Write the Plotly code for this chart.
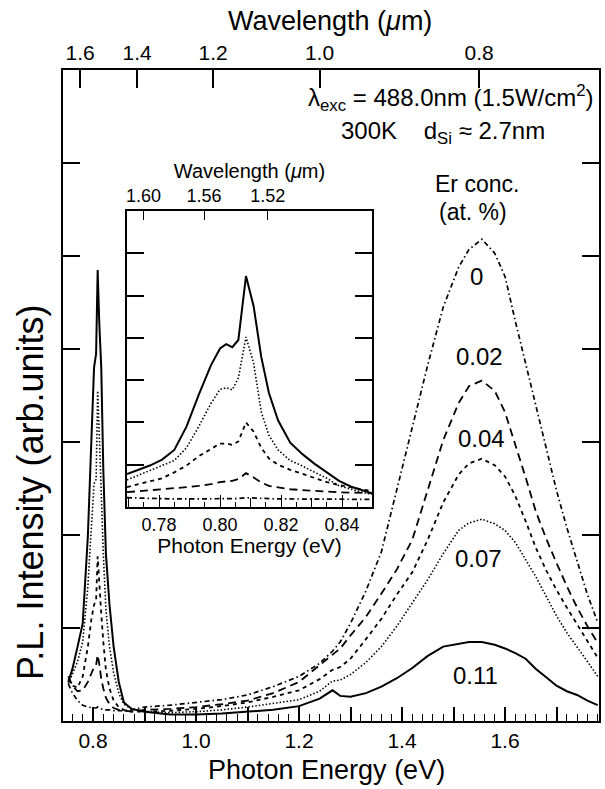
import plotly.graph_objects as go

# ---------------- data ----------------
HC = 1.2398  # eV * um, photon energy <-> wavelength

# main panel: photon energy (eV) and PL intensity (arb. units, 1 unit = 1 y tick)
E_MAIN = [0.752, 0.760, 0.770, 0.780, 0.790, 0.797, 0.802, 0.806, 0.809, 0.812,
          0.816, 0.820, 0.825, 0.832, 0.840, 0.850, 0.860, 0.875, 0.900, 0.950,
          1.000, 1.050, 1.100, 1.150, 1.200, 1.240, 1.265, 1.280, 1.300, 1.330,
          1.360, 1.390, 1.420, 1.450, 1.480, 1.510, 1.530, 1.555, 1.580, 1.600,
          1.620, 1.640, 1.660, 1.680, 1.700, 1.720, 1.740, 1.760, 1.780]
PL_0 = [0.40, 0.30, 0.22, 0.17, 0.15, 0.14, 0.14, 0.14, 0.15, 0.14,
        0.13, 0.12, 0.12, 0.12, 0.11, 0.11, 0.11, 0.12, 0.15, 0.17,
        0.20, 0.23, 0.28, 0.37, 0.48, 0.62, 0.75, 0.85, 1.05, 1.40,
        1.82, 2.48, 3.15, 3.83, 4.45, 4.88, 5.07, 5.18, 5.03, 4.78,
        4.30, 3.85, 3.38, 2.93, 2.48, 2.08, 1.72, 1.36, 1.06]
PL_002 = [0.48, 0.38, 0.32, 0.33, 0.42, 0.52, 0.58, 0.60, 0.71, 0.62,
          0.45, 0.35, 0.25, 0.18, 0.14, 0.12, 0.11, 0.10, 0.12, 0.13,
          0.15, 0.18, 0.22, 0.30, 0.42, 0.60, 0.72, 0.78, 0.92, 1.12,
          1.37, 1.63, 1.95, 2.48, 3.02, 3.42, 3.60, 3.66, 3.55, 3.32,
          2.98, 2.62, 2.25, 1.96, 1.70, 1.45, 1.22, 1.02, 0.84]
PL_004 = [0.45, 0.38, 0.36, 0.48, 0.80, 1.10, 1.25, 1.30, 1.77, 1.55,
          1.15, 0.85, 0.55, 0.35, 0.22, 0.15, 0.12, 0.10, 0.10, 0.11,
          0.13, 0.16, 0.20, 0.26, 0.33, 0.45, 0.55, 0.58, 0.67, 0.88,
          1.10, 1.36, 1.60, 1.95, 2.35, 2.65, 2.77, 2.82, 2.75, 2.63,
          2.42, 2.15, 1.86, 1.62, 1.41, 1.22, 1.04, 0.86, 0.68]
PL_007 = [0.40, 0.50, 0.64, 0.85, 1.45, 2.10, 2.55, 2.60, 3.55, 3.10,
          2.40, 1.80, 1.20, 0.80, 0.52, 0.30, 0.18, 0.13, 0.10, 0.09,
          0.10, 0.12, 0.15, 0.19, 0.23, 0.32, 0.43, 0.44, 0.50, 0.63,
          0.80, 1.02, 1.27, 1.52, 1.80, 2.05, 2.13, 2.17, 2.12, 2.05,
          1.92, 1.74, 1.55, 1.34, 1.13, 0.95, 0.80, 0.64, 0.48]
PL_011 = [0.42, 0.56, 0.80, 1.05, 1.99, 2.95, 3.80, 3.95, 4.85, 4.30,
          3.80, 2.70, 1.80, 1.25, 0.80, 0.42, 0.20, 0.13, 0.10, 0.07,
          0.07, 0.08, 0.10, 0.12, 0.16, 0.24, 0.33, 0.27, 0.26, 0.30,
          0.37, 0.46, 0.57, 0.70, 0.80, 0.83, 0.85, 0.85, 0.82, 0.78,
          0.73, 0.67, 0.56, 0.47, 0.38, 0.32, 0.28, 0.22, 0.17]

# inset: Er3+ 1.54 um band
E_INSET = [0.7695, 0.773, 0.777, 0.781, 0.785, 0.789, 0.793, 0.797, 0.800, 0.802,
           0.804, 0.806, 0.8085, 0.811, 0.8135, 0.816, 0.819, 0.823, 0.827, 0.831,
           0.835, 0.839, 0.843, 0.847, 0.850]
IN_0 = [0.22, 0.21, 0.20, 0.20, 0.19, 0.19, 0.19, 0.19, 0.20, 0.20,
        0.20, 0.20, 0.22, 0.21, 0.20, 0.20, 0.19, 0.19, 0.19, 0.19,
        0.18, 0.18, 0.18, 0.18, 0.18]
IN_002 = [0.35, 0.37, 0.39, 0.42, 0.44, 0.47, 0.50, 0.54, 0.59, 0.61,
          0.62, 0.66, 0.80, 0.70, 0.58, 0.50, 0.46, 0.42, 0.40, 0.38,
          0.36, 0.35, 0.34, 0.33, 0.33]
IN_004 = [0.47, 0.53, 0.60, 0.68, 0.82, 0.98, 1.20, 1.38, 1.50, 1.50,
          1.47, 1.55, 2.00, 1.78, 1.40, 1.15, 1.00, 0.88, 0.78, 0.68,
          0.59, 0.52, 0.46, 0.41, 0.38]
IN_007 = [0.64, 0.74, 0.87, 0.98, 1.10, 1.40, 1.90, 2.45, 2.78, 2.82,
          2.77, 3.05, 4.02, 3.40, 2.25, 1.70, 1.35, 1.10, 0.97, 0.82,
          0.68, 0.50, 0.42, 0.34, 0.30]
IN_011 = [0.78, 0.88, 0.98, 1.12, 1.35, 1.90, 2.65, 3.35, 3.75, 3.85,
          3.78, 3.95, 5.46, 4.75, 3.55, 2.70, 2.05, 1.52, 1.25, 1.02,
          0.82, 0.62, 0.48, 0.38, 0.32]

CONC_LABELS = ["0", "0.02", "0.04", "0.07", "0.11"]
MAIN_XLABELS = [0.8, 1.0, 1.2, 1.4, 1.6]
WL_TICKS_MAIN = [1.6, 1.4, 1.2, 1.0, 0.8]
INSET_XLABELS = [0.78, 0.80, 0.82, 0.84]
WL_TICKS_INSET = [1.60, 1.56, 1.52]

# ---------------- styling ----------------
FONT = "Liberation Sans, Arial, Helvetica, sans-serif"
STYLES = {
    "0": dict(dash="5px,3px,1.5px,3px", width=1.7),
    "0.02": dict(dash="8px,5px", width=1.8),
    "0.04": dict(dash="4px,4px", width=1.8),
    "0.07": dict(dash="1.5px,2px", width=1.6),
    "0.11": dict(dash="solid", width=2.0),
}
main_series = dict(zip(CONC_LABELS, [PL_0, PL_002, PL_004, PL_007, PL_011]))
inset_series = dict(zip(CONC_LABELS, [IN_0, IN_002, IN_004, IN_007, IN_011]))

fig = go.Figure()
for lab in CONC_LABELS:
    st = STYLES[lab]
    fig.add_trace(go.Scatter(x=E_MAIN, y=main_series[lab], mode="lines",
                             line=dict(color="black", width=st["width"], dash=st["dash"]),
                             xaxis="x", yaxis="y", showlegend=False, hoverinfo="skip"))
for lab in CONC_LABELS:
    st = STYLES[lab]
    fig.add_trace(go.Scatter(x=E_INSET, y=inset_series[lab], mode="lines",
                             line=dict(color="black", width=st["width"], dash=st["dash"]),
                             xaxis="x3", yaxis="y3", showlegend=False, hoverinfo="skip"))
# invisible traces so the extra (wavelength / tick-only) axes are drawn
for xa, ya, xs, ys in [("x2", "y", E_MAIN, PL_0), ("x5", "y", E_MAIN, PL_0),
                       ("x4", "y3", E_INSET, IN_0), ("x6", "y3", E_INSET, IN_0)]:
    fig.add_trace(go.Scatter(x=xs, y=ys, xaxis=xa, yaxis=ya, mode="lines",
                             opacity=0, showlegend=False, hoverinfo="skip"))

# geometry (pixels in the 605x789 canvas)
W, H = 605, 789
L, R, T, B = 63, 599, 70, 721
def px(x):
    return (x - L) / (R - L)
def py(y):
    return (B - y) / (B - T)

XR_MAIN = [0.7417, 1.7825]
XR_INSET = [0.7695, 0.8498]

main_odd = [round(0.9 + 0.2 * i, 1) for i in range(5)]
main_minor = [round(0.74 + 0.02 * i, 2) for i in range(53)]
inset_odd = [round(0.77 + 0.02 * i, 2) for i in range(5)]
inset_minor = [round(0.770 + 0.005 * i, 3) for i in range(17)]

tickfont = dict(family=FONT, size=21, color="black")
inset_tickfont = dict(family=FONT, size=18, color="black")
axis_common = dict(showgrid=False, zeroline=False, showline=True, linecolor="black",
                   linewidth=2, ticks="inside", tickcolor="black", tickwidth=1.6,
                   automargin=False)

fig.update_layout(
    width=W, height=H,
    margin=dict(l=L, r=W - R, t=T, b=H - B, pad=0),
    paper_bgcolor="white", plot_bgcolor="white",
    font=dict(family=FONT, color="black"),
    xaxis=dict(axis_common, domain=[0, 1], anchor="y", range=XR_MAIN,
               tickmode="array", tickvals=MAIN_XLABELS,
               ticktext=[f"{v:.1f}" for v in MAIN_XLABELS],
               ticklen=14, tickfont=tickfont,
               minor=dict(tickmode="array", tickvals=main_minor, ticks="inside",
                          ticklen=7, tickcolor="black", tickwidth=1.4)),
    xaxis5=dict(axis_common, overlaying="x", anchor="y", side="bottom", range=XR_MAIN,
                showline=False, tickmode="array", tickvals=main_odd, ticklen=14,
                showticklabels=False),
    xaxis2=dict(axis_common, overlaying="x", side="top", anchor="y", range=XR_MAIN,
                tickmode="array", tickvals=[HC / w for w in WL_TICKS_MAIN],
                ticktext=[f"{w:.1f}" for w in WL_TICKS_MAIN],
                ticklen=18, tickfont=tickfont),
    yaxis=dict(axis_common, domain=[0, 1], anchor="x", range=[0, 7], dtick=1,
               ticklen=17, showticklabels=False, mirror="ticks"),
    xaxis3=dict(axis_common, domain=[px(127), px(372)], anchor="y3", range=XR_INSET,
                tickmode="array", tickvals=INSET_XLABELS,
                ticktext=[f"{v:.2f}" for v in INSET_XLABELS],
                ticklen=12, tickwidth=1.3, linewidth=1.8, tickfont=inset_tickfont,
                minor=dict(tickmode="array", tickvals=inset_minor, ticks="inside",
                           ticklen=5, tickcolor="black", tickwidth=1.2),
                title=dict(text="Photon Energy (eV)", font=dict(size=21), standoff=2)),
    xaxis6=dict(axis_common, overlaying="x3", anchor="y3", side="bottom", range=XR_INSET,
                showline=False, tickmode="array", tickvals=inset_odd, ticklen=9,
                tickwidth=1.3, showticklabels=False),
    xaxis4=dict(axis_common, overlaying="x3", side="top", anchor="y3", range=XR_INSET,
                tickmode="array", tickvals=[HC / w for w in WL_TICKS_INSET],
                ticktext=[f"{w:.2f}" for w in WL_TICKS_INSET],
                ticklen=9, tickwidth=1.3, linewidth=1.8, tickfont=inset_tickfont,
                title=dict(text="Wavelength (<i>μ</i>m)", font=dict(size=20), standoff=2)),
    yaxis3=dict(axis_common, domain=[py(507), py(211)], anchor="x3", range=[0, 7], dtick=1,
                ticklen=17, tickwidth=1.6, linewidth=1.8, showticklabels=False, mirror="ticks"),
)

ann_font = dict(family=FONT, size=24, color="black")
annotations = [
    dict(text="Wavelength (<i>μ</i>m)", x=px(330), y=py(21), font=dict(family=FONT, size=27)),
    dict(text="Photon Energy (eV)", x=px(326), y=py(770), font=dict(family=FONT, size=27)),
    dict(text="P.L. Intensity (arb.units)", x=px(31), y=py(492), textangle=-90,
         font=dict(family=FONT, size=36)),
    dict(text="λ<sub>exc</sub> = 488.0nm (1.5W/cm<sup>2</sup>)", x=px(596), y=py(98),
         xanchor="right", font=ann_font),
    dict(text="300K\u00a0\u00a0\u00a0\u00a0d<sub>Si</sub> ≈ 2.7nm", x=px(443), y=py(132),
         font=ann_font),
    dict(text="Er conc.", x=px(477), y=py(184), font=dict(family=FONT, size=23)),
    dict(text="(at. %)", x=px(473), y=py(212), font=dict(family=FONT, size=23)),
]
for a in annotations:
    a.update(xref="paper", yref="paper", showarrow=False)
    a.setdefault("xanchor", "center")
    a.setdefault("yanchor", "middle")

# concentration labels placed in data coordinates next to their curves
LABEL_POS = {"0": (1.545, 4.78), "0.02": (1.551, 3.92), "0.04": (1.555, 3.04),
             "0.07": (1.548, 1.75), "0.11": (1.542, 0.49)}
for lab in CONC_LABELS:
    x, y = LABEL_POS[lab]
    annotations.append(dict(text=lab, x=x, y=y, xref="x", yref="y", showarrow=False,
                            font=dict(family=FONT, size=24, color="black"),
                            xanchor="center", yanchor="middle"))
fig.update_layout(annotations=annotations)

# remove the browser's default 8px page margin so the figure fills the window exactly
fig.write_html("out.html", config={"displayModeBar": False},
               post_script="document.body.style.margin='0px';document.body.style.padding='0px';")
